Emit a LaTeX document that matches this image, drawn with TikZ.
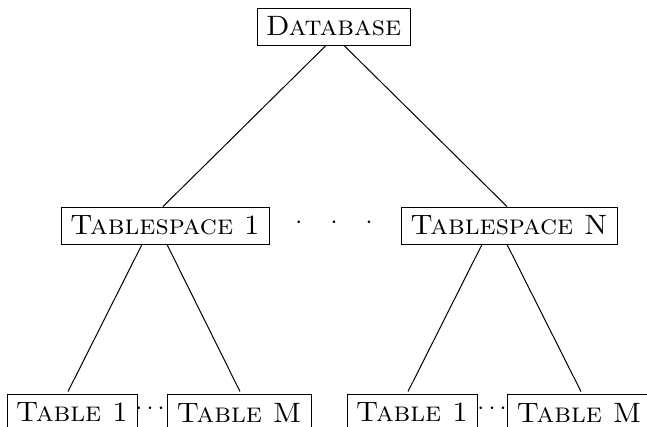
\documentclass[tikz,border=0pt]{standalone}
\usepackage{fontspec}
\usetikzlibrary{calc}
\newcommand{\wide}[1]{\scalebox{1.03}[1]{#1}}
\begin{document}
\begin{tikzpicture}[x=1pt,y=-1pt,
  box/.style={draw, line width=0.9pt, minimum height=37pt, inner sep=0pt,
    font=\fontsize{28}{32}\selectfont\scshape},
  dotsnode/.style={inner sep=0pt, anchor=base, font=\fontsize{25}{30}\selectfont},
  edge/.style={line width=1pt}]
\useasboundingbox (0,0) rectangle (647,427);
\clip (0,0) rectangle (647,427);
% nodes
\node[box, minimum width=153pt] (db)  at (333.5,26.5)  {\wide{Database}};
\node[box, minimum width=208pt] (ts1) at (165,225.5)   {\wide{Tablespace 1}};
\node[box, minimum width=216pt] (tsn) at (509,225.5)   {\wide{Tablespace N}};
\node[box, minimum width=130pt] (t11) at (72,412.5)    {\wide{Table 1}};
\node[box, minimum width=144pt] (t1m) at (239,412.5)   {\wide{Table M}};
\node[box, minimum width=130pt] (tn1) at (412,412.5)   {\wide{Table 1}};
\node[box, minimum width=144pt] (tnm) at (579,412.5)   {\wide{Table M}};
\node[dotsnode] (mid) at (334,228.25) {$\cdotp\hspace{24pt}\cdotp\hspace{24pt}\cdotp$};
\node[dotsnode] (lcd) at (150,414.25) {$\cdots$};
\node[dotsnode] (rcd) at (492,414.25) {$\cdots$};
% connectors
\draw[edge] ($(db.south)+(-7.5,0)$) -- ($(ts1.north)+(-2,0)$);
\draw[edge] ($(db.south)+(10.5,0)$) -- ($(tsn.north)+(-2,0)$);
\draw[edge] ($(ts1.south)+(-23,0)$) -- ($(t11.north)+(-4,-2)$);
\draw[edge] ($(ts1.south)+(2,0)$)   -- ($(t1m.north)+(1,-2)$);
\draw[edge] ($(tsn.south)+(-27,0)$) -- ($(tn1.north)+(-4,-2)$);
\draw[edge] ($(tsn.south)+(-2,0)$)  -- ($(tnm.north)+(2,-2)$);
\end{tikzpicture}
\end{document}
